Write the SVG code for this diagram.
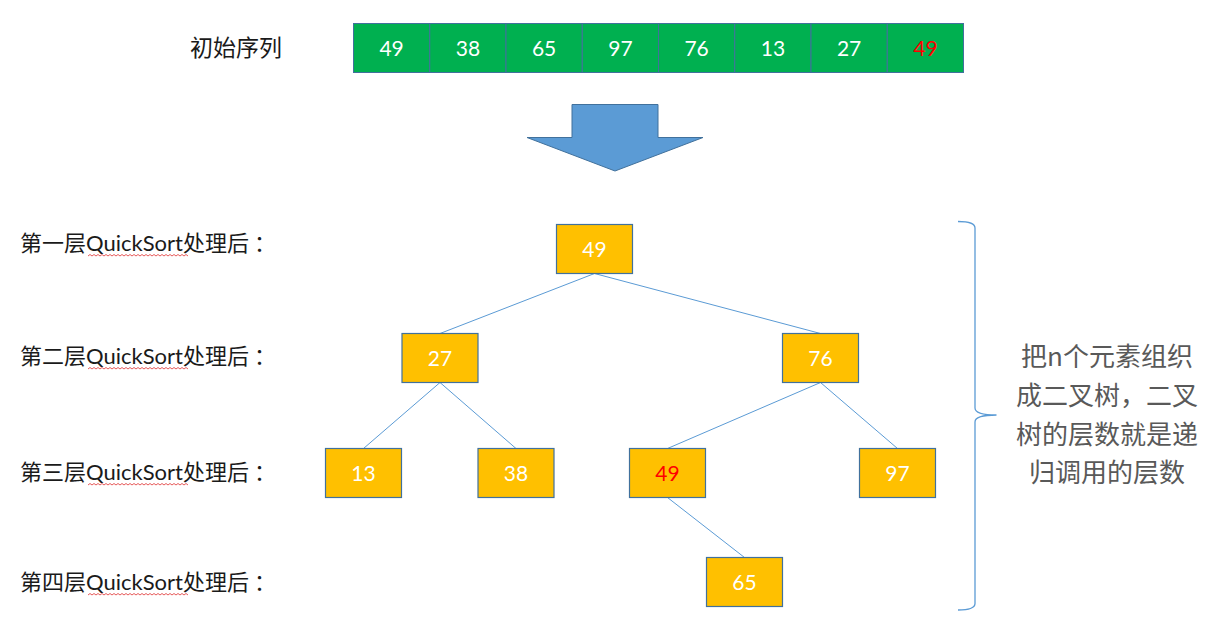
<svg xmlns="http://www.w3.org/2000/svg" xmlns:xlink="http://www.w3.org/1999/xlink" width="1211" height="632" viewBox="0 0 1211 632">
<style>
.cell{fill:#00B050;stroke:#41719C;stroke-width:1}
.node{fill:#FFC000;stroke:#41719C;stroke-width:1.2}
.num{font-family:Lato,"Liberation Sans",sans-serif;font-size:21px;fill:#FFFFFF;text-anchor:middle}
.red{fill:#FF0000}
.lbl{font-family:"Noto Sans CJK SC",sans-serif;font-size:22px;fill:#1a1a1a}
.lat{font-family:Lato,"Liberation Sans",sans-serif}
.edge{stroke:#5B9BD5;stroke-width:1;fill:none}
.note{font-family:"Noto Sans CJK SC",sans-serif;font-size:26px;fill:#595959;text-anchor:middle}
</style>
<defs>
<path id="sq" d="M0,0 l2,-1.5 l2,1.5 l2,-1.5 l2,1.5 l2,-1.5 l2,1.5 l2,-1.5 l2,1.5 l2,-1.5 l2,1.5 l2,-1.5 l2,1.5 l2,-1.5 l2,1.5 l2,-1.5 l2,1.5 l2,-1.5 l2,1.5 l2,-1.5 l2,1.5 l2,-1.5 l2,1.5 l2,-1.5 l2,1.5 l2,-1.5 l2,1.5 l2,-1.5 l2,1.5 l2,-1.5 l2,1.5 l2,-1.5 l2,1.5 l2,-1.5 l2,1.5 l2,-1.5 l2,1.5 l2,-1.5 l2,1.5 l2,-1.5 l2,1.5 l2,-1.5 l2,1.5 l2,-1.5 l2,1.5 l2,-1.5 l2,1.5 l2,-1.5 l2,1.5 l2,-1.5 l2,1.5" fill="none" stroke="#E03030" stroke-width="0.8"/>
</defs>
<rect width="1211" height="632" fill="#FFFFFF"/>

<g id="title">
<text class="lbl" x="190" y="56" style="font-size:23px">初始序列</text>
</g>

<g id="array">
<rect class="cell" x="353.5" y="23.5" width="76.25" height="49"/>
<rect class="cell" x="429.75" y="23.5" width="76.25" height="49"/>
<rect class="cell" x="506" y="23.5" width="76.25" height="49"/>
<rect class="cell" x="582.25" y="23.5" width="76.25" height="49"/>
<rect class="cell" x="658.5" y="23.5" width="76.25" height="49"/>
<rect class="cell" x="734.75" y="23.5" width="76.25" height="49"/>
<rect class="cell" x="811" y="23.5" width="76.25" height="49"/>
<rect class="cell" x="887.25" y="23.5" width="76.25" height="49"/>
<text class="num" x="391.6" y="55.5">49</text>
<text class="num" x="467.9" y="55.5">38</text>
<text class="num" x="544.1" y="55.5">65</text>
<text class="num" x="620.4" y="55.5">97</text>
<text class="num" x="696.6" y="55.5">76</text>
<text class="num" x="772.9" y="55.5">13</text>
<text class="num" x="849.1" y="55.5">27</text>
<text class="num red" x="925.4" y="55.5">49</text>
</g>

<g id="arrow">
<polygon points="572,104.5 658,104.5 658,137.5 703,137.5 615,171 527,137.5 572,137.5" fill="#5B9BD5" stroke="#41719C" stroke-width="1"/>
</g>

<g id="labels">
<text class="lbl" x="20" y="251">第一层<tspan class="lat">QuickSort</tspan>处理后<tspan dx="5">：</tspan></text>
<text class="lbl" x="20" y="364">第二层<tspan class="lat">QuickSort</tspan>处理后<tspan dx="5">：</tspan></text>
<text class="lbl" x="20" y="480">第三层<tspan class="lat">QuickSort</tspan>处理后<tspan dx="5">：</tspan></text>
<text class="lbl" x="20" y="590">第四层<tspan class="lat">QuickSort</tspan>处理后<tspan dx="5">：</tspan></text>
<use xlink:href="#sq" x="88" y="256"/>
<use xlink:href="#sq" x="88" y="369"/>
<use xlink:href="#sq" x="88" y="485"/>
<use xlink:href="#sq" x="88" y="595"/>
</g>

<g id="connectors">
<line class="edge" x1="594.5" y1="273.5" x2="440" y2="333.5"/>
<line class="edge" x1="594.5" y1="273.5" x2="820.5" y2="333.5"/>
<line class="edge" x1="440" y1="382.5" x2="363.5" y2="448.5"/>
<line class="edge" x1="440" y1="382.5" x2="516" y2="448.5"/>
<line class="edge" x1="820.5" y1="382.5" x2="667.5" y2="448.5"/>
<line class="edge" x1="820.5" y1="382.5" x2="897.5" y2="448.5"/>
<line class="edge" x1="667.5" y1="497.5" x2="744.5" y2="557.5"/>
</g>

<g id="n49">
<rect class="node" x="556.5" y="224.5" width="76" height="49"/>
<text class="num" x="594.5" y="256.5">49</text>
</g>
<g id="n27">
<rect class="node" x="402" y="333.5" width="76" height="49"/>
<text class="num" x="440" y="365.5">27</text>
</g>
<g id="n76">
<rect class="node" x="782.5" y="333.5" width="76" height="49"/>
<text class="num" x="820.5" y="365.5">76</text>
</g>
<g id="n13">
<rect class="node" x="325.5" y="448.5" width="76" height="49"/>
<text class="num" x="363.5" y="480.5">13</text>
</g>
<g id="n38">
<rect class="node" x="478" y="448.5" width="76" height="49"/>
<text class="num" x="516" y="480.5">38</text>
</g>
<g id="n49b">
<rect class="node" x="629.5" y="448.5" width="76" height="49"/>
<text class="num red" x="667.5" y="480.5">49</text>
</g>
<g id="n97">
<rect class="node" x="859.5" y="448.5" width="76" height="49"/>
<text class="num" x="897.5" y="480.5">97</text>
</g>
<g id="n65">
<rect class="node" x="706.5" y="557.5" width="76" height="49"/>
<text class="num" x="744.5" y="589.5">65</text>
</g>

<g id="brace">
<path d="M958,221.5 Q975,221.5 975,228 L975,408 Q975,415 996.5,415 Q975,415 975,422 L975,603.5 Q975,610 958,610" fill="none" stroke="#5B9BD5" stroke-width="1.3"/>
</g>

<g id="note">
<text class="note" x="1107" y="366">把n个元素组织</text>
<text class="note" x="1107" y="405">成二叉树，二叉</text>
<text class="note" x="1107" y="444">树的层数就是递</text>
<text class="note" x="1107" y="482">归调用的层数</text>
</g>
</svg>
